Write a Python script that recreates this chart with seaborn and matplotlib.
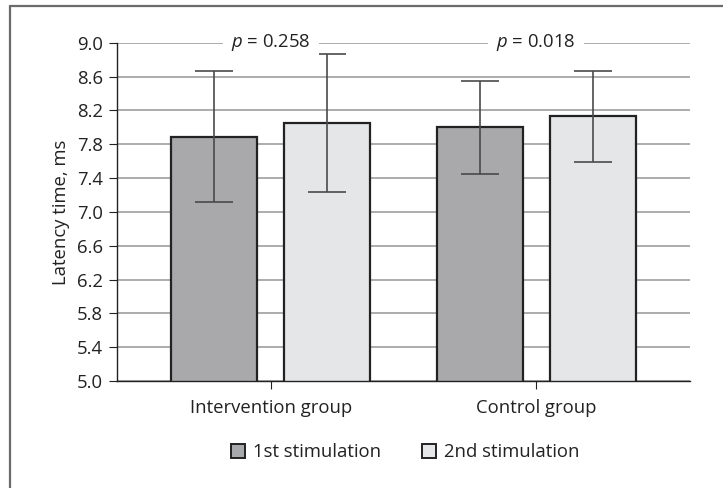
import numpy as np
import pandas as pd
import seaborn as sns
import matplotlib.pyplot as plt
from matplotlib.lines import Line2D

groups = ["Intervention group", "Control group"]
stims = ["1st stimulation", "2nd stimulation"]
means_1st = [7.89, 8.00]
means_2nd = [8.05, 8.13]
err_1st = [0.77, 0.55]
err_2nd = [0.82, 0.54]
p_labels = ["0.258", "0.018"]
yticks = [5.0, 5.4, 5.8, 6.2, 6.6, 7.0, 7.4, 7.8, 8.2, 8.6, 9.0]

df = pd.DataFrame({
    "group": groups * 2,
    "stim": [stims[0]] * 2 + [stims[1]] * 2,
    "latency": means_1st + means_2nd,
    "err": err_1st + err_2nd,
})

sns.set_theme(style="white")
plt.rcParams['font.family'] = ['Open Sans', 'DejaVu Sans']
plt.rcParams['mathtext.fontset'] = 'custom'
plt.rcParams['mathtext.it'] = 'Open Sans:italic'
plt.rcParams['mathtext.rm'] = 'Open Sans'
FS = 13.3

fig = plt.figure(figsize=(7.23, 4.88), dpi=100)
ax = fig.add_axes([117/723, 1 - 381/488, (690 - 117)/723, (381 - 42.7)/488])

sns.barplot(data=df, x="group", y="latency", hue="stim", order=groups, hue_order=stims,
            palette=["#a8a9ac", "#e5e6e8"], edgecolor="#222222", linewidth=1.6,
            width=0.853, gap=0.24, errorbar=None, ax=ax, zorder=3)

# error bars on each bar
bars = [p for p in ax.patches if p.get_height() > 0]
for p, (_, row) in zip(bars, df.iterrows()):
    xc = p.get_x() + p.get_width() / 2
    ax.errorbar(xc, row["latency"], yerr=row["err"], fmt="none", ecolor="#4a4a4a",
                elinewidth=1.2, capsize=14, capthick=1.2, zorder=4)

ax.set_ylim(5.0, 9.0)
ax.set_xlim(-0.58, 1.58)
ax.set_yticks(yticks)
ax.set_yticklabels([f"{v:.1f}" for v in yticks], fontsize=FS, color="#222222")
ax.tick_params(axis="x", labelsize=FS, colors="#222222", length=6, width=0.8, direction="out", pad=7, bottom=True)
ax.tick_params(axis="y", length=6, width=0.8, direction="out", pad=4, left=True, colors="#222222")
ax.set_xlabel("")
ax.set_ylabel("Latency time, ms", fontsize=FS, color="#222222", labelpad=5)

ax.yaxis.grid(True, color="#a6a6a6", linewidth=1.3, zorder=0)
ax.set_axisbelow(True)
for s in ["top", "right"]:
    ax.spines[s].set_visible(False)
for s in ["left", "bottom"]:
    ax.spines[s].set_color("#222222")
    ax.spines[s].set_linewidth(1.0)
    ax.spines[s].set_zorder(5)

# p-values sitting on the top gridline
for i, lab in enumerate(p_labels):
    ax.text(i, 9.0, f"$p$ = {lab}", ha="center", va="center", fontsize=FS,
            color="#222222", zorder=6,
            bbox=dict(boxstyle="square,pad=0.45", fc="white", ec="none"))

ax.legend_.remove()
handles = [plt.Rectangle((0, 0), 1, 1, fc=c, ec="#222222", lw=1.4) for c in ["#a8a9ac", "#e5e6e8"]]
fig.legend(handles, stims, loc="center", bbox_to_anchor=(405/723, 1 - 452/488), ncol=2,
           frameon=False, fontsize=FS, handlelength=0.8, handleheight=0.8,
           handletextpad=0.4, columnspacing=2.2, labelcolor="#222222")

# outer frame (left and top edges show)
fig.add_artist(Line2D([10/723, 10/723], [0, 1 - 6/488], transform=fig.transFigure, color="#6b6b6b", lw=1.6))
fig.add_artist(Line2D([10/723, 1], [1 - 6/488, 1 - 6/488], transform=fig.transFigure, color="#6b6b6b", lw=1.6))

fig.savefig("out.png", dpi=100)
